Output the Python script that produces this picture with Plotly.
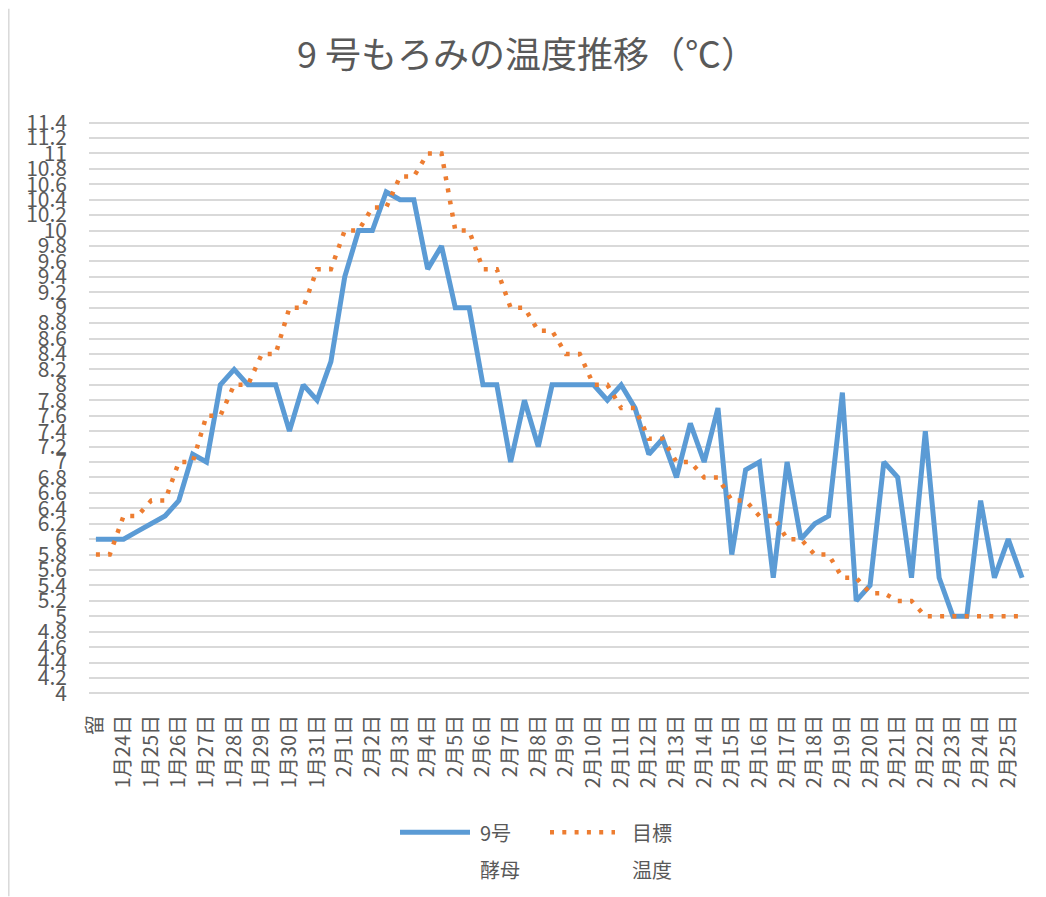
import plotly.graph_objects as go

# ---- data ----
day_labels = ["留", "1月24日", "1月25日", "1月26日", "1月27日", "1月28日", "1月29日",
              "1月30日", "1月31日", "2月1日", "2月2日", "2月3日", "2月4日", "2月5日",
              "2月6日", "2月7日", "2月8日", "2月9日", "2月10日", "2月11日", "2月12日",
              "2月13日", "2月14日", "2月15日", "2月16日", "2月17日", "2月18日", "2月19日",
              "2月20日", "2月21日", "2月22日", "2月23日", "2月24日", "2月25日"]

# two readings per day (labels shown on the first reading of each day)
moromi_9 = [6.0, 6.0, 6.0, 6.1, 6.2, 6.3, 6.5, 7.1, 7.0, 8.0,
            8.2, 8.0, 8.0, 8.0, 7.4, 8.0, 7.8, 8.3, 9.4, 10.0,
            10.0, 10.5, 10.4, 10.4, 9.5, 9.8, 9.0, 9.0, 8.0, 8.0,
            7.0, 7.8, 7.2, 8.0, 8.0, 8.0, 8.0, 7.8, 8.0, 7.7,
            7.1, 7.3, 6.8, 7.5, 7.0, 7.7, 5.8, 6.9, 7.0, 5.5,
            7.0, 6.0, 6.2, 6.3, 7.9, 5.2, 5.4, 7.0, 6.8, 5.5,
            7.4, 5.5, 5.0, 5.0, 6.5, 5.5, 6.0, 5.5]

target = [5.8, 5.8, 6.3, 6.3, 6.5, 6.5, 7.0, 7.0, 7.6, 7.6,
          8.0, 8.0, 8.4, 8.4, 9.0, 9.0, 9.5, 9.5, 10.0, 10.0,
          10.3, 10.3, 10.7, 10.7, 11.0, 11.0, 10.0, 10.0, 9.5, 9.5,
          9.0, 9.0, 8.7, 8.7, 8.4, 8.4, 8.0, 8.0, 7.7, 7.7,
          7.3, 7.3, 7.0, 7.0, 6.8, 6.8, 6.5, 6.5, 6.3, 6.3,
          6.0, 6.0, 5.8, 5.8, 5.5, 5.5, 5.3, 5.3, 5.2, 5.2,
          5.0, 5.0, 5.0, 5.0, 5.0, 5.0, 5.0, 5.0]

y_tick_labels = ["4", "4.2", "4.4", "4.6", "4.8", "5", "5.2", "5.4", "5.6", "5.8",
                 "6", "6.2", "6.4", "6.6", "6.8", "7", "7.2", "7.4", "7.6", "7.8",
                 "8", "8.2", "8.4", "8.6", "8.8", "9", "9.2", "9.4", "9.6", "9.8",
                 "10", "10.2", "10.4", "10.6", "10.8", "11", "11.2", "11.4"]

series_names = ["9号酵母", "目標温度"]
legend_lines = [["9号", "酵母"], ["目標", "温度"]]
title_text = "9 号もろみの温度推移（℃）"

# ---- styling ----
FONT = "Noto Sans CJK JP, Noto Sans, sans-serif"
GRAY = "#595959"
BLUE = "#5B9BD5"
ORANGE = "#ED7D31"
DOTS = "4px,8.3px"

# the page body adds an 8px offset; the figure is sized to fit the window
W, H = 1038, 889
ML, MR, MT, MB = 81, 17, 112.5, 201.5
PW, PH = W - ML - MR, H - MT - MB
Y_RANGE = [3.98, 11.42]   # a little padding so the 4 and 11.4 gridlines show


def px(x_page):
    """page pixel -> paper x"""
    return (x_page - 8 - ML) / PW


def py(y_page):
    """page pixel -> paper y"""
    return (H - MB - (y_page - 8)) / PH


x_idx = list(range(len(moromi_9)))

fig = go.Figure()
fig.add_trace(go.Scatter(x=x_idx, y=moromi_9, mode="lines", name=series_names[0],
                         line=dict(color=BLUE, width=5), showlegend=False))
fig.add_trace(go.Scatter(x=x_idx, y=target, mode="lines", name=series_names[1],
                         line=dict(color=ORANGE, width=4.5, dash=DOTS), showlegend=False))

fig.update_layout(
    width=W, height=H,
    margin=dict(l=ML, r=MR, t=MT, b=MB),
    paper_bgcolor="white", plot_bgcolor="white",
    font=dict(family=FONT, color=GRAY, size=20),
    title=dict(text=title_text, x=0.5, xref="container", xanchor="center",
               y=1 - 47 / H, yref="container", yanchor="middle",
               font=dict(size=36, color=GRAY, family=FONT)),
    showlegend=False,
)

fig.update_xaxes(range=[-0.5, len(moromi_9) - 0.5],
                 tickvals=[2 * k for k in range(len(day_labels))],
                 ticktext=day_labels, tickangle=-90,
                 showgrid=False, zeroline=False, showline=False, ticks="",
                 ticklabelstandoff=15,
                 tickfont=dict(size=20, color=GRAY, family=FONT))
fig.update_yaxes(range=Y_RANGE,
                 tickvals=[float(t) for t in y_tick_labels], ticktext=y_tick_labels,
                 showgrid=True, gridcolor="#d9d9d9", gridwidth=1.5,
                 zeroline=False, showline=False, ticks="",
                 ticklabelstandoff=21,
                 tickfont=dict(size=21, color=GRAY, family=FONT))

# legend drawn like the reference (long sample lines, names wrapped on two rows)
legend_samples = [(400, 470, BLUE, 5, "solid"), (550, 615, ORANGE, 4.5, DOTS)]
legend_text_x = [478, 630]
for (x0, x1, col, w, dash), tx, lines in zip(legend_samples, legend_text_x, legend_lines):
    fig.add_shape(type="line", xref="paper", yref="paper",
                  x0=px(x0), x1=px(x1), y0=py(833), y1=py(833),
                  line=dict(color=col, width=w, dash=dash))
    for row_y, txt in zip([833, 870], lines):
        fig.add_annotation(text=txt, xref="paper", yref="paper",
                           x=px(tx), y=py(row_y), xanchor="left", yanchor="middle",
                           showarrow=False, font=dict(size=20, color=GRAY, family=FONT))

# chart-area border visible on the left edge of the reference
fig.add_shape(type="line", xref="paper", yref="paper",
              x0=px(8.8), x1=px(8.8), y0=py(897), y1=py(8),
              line=dict(color="#d9d9d9", width=1.5))

fig.write_html("out.html")
